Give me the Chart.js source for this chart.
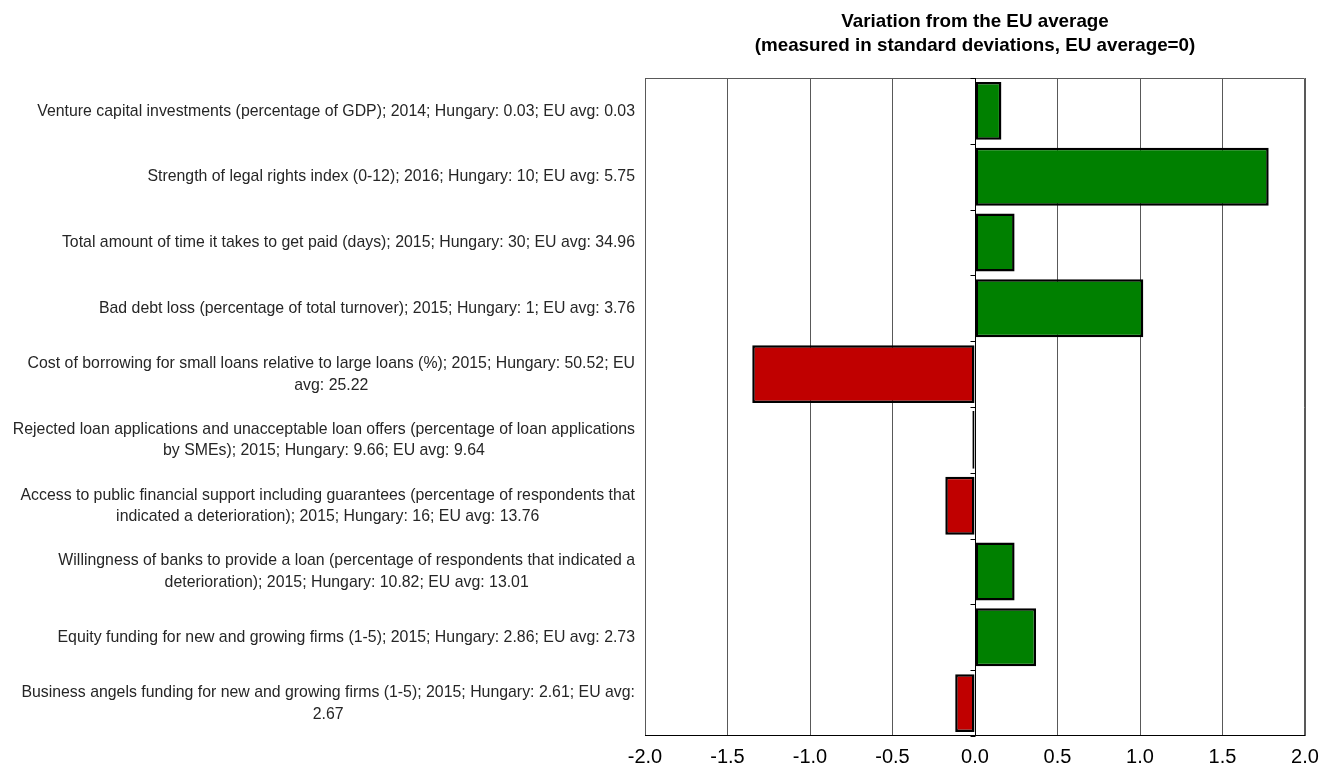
<!DOCTYPE html>
<html>
<head>
<meta charset="utf-8">
<script src="https://cdn.jsdelivr.net/npm/chart.js@4"></script>
<style>
  html, body { margin: 0; padding: 0; background: #ffffff; }
  #wrap { width: 1333px; height: 771px; position: relative; }
</style>
</head>
<body>
<div id="wrap"><canvas id="chart"></canvas></div>
<script>
// Indicator labels (each entry is one label, split into its display lines)
const indicators = [
  ["Venture capital investments (percentage of GDP); 2014; Hungary: 0.03; EU avg: 0.03"],
  ["Strength of legal rights index (0-12); 2016; Hungary: 10; EU avg: 5.75"],
  ["Total amount of time it takes to get paid (days); 2015; Hungary: 30; EU avg: 34.96"],
  ["Bad debt loss (percentage of total turnover); 2015; Hungary: 1; EU avg: 3.76"],
  ["Cost of borrowing for small loans relative to large loans (%); 2015; Hungary: 50.52; EU", "avg: 25.22"],
  ["Rejected loan applications and unacceptable loan offers (percentage of loan applications", "by SMEs); 2015; Hungary: 9.66; EU avg: 9.64"],
  ["Access to public financial support including guarantees (percentage of respondents that", "indicated a deterioration); 2015; Hungary: 16; EU avg: 13.76"],
  ["Willingness of banks to provide a loan (percentage of respondents that indicated a", "deterioration); 2015; Hungary: 10.82; EU avg: 13.01"],
  ["Equity funding for new and growing firms (1-5); 2015; Hungary: 2.86; EU avg: 2.73"],
  ["Business angels funding for new and growing firms (1-5); 2015; Hungary: 2.61; EU avg:", "2.67"]
];

// Deviation from the EU average, in standard deviations
const deviations = [0.16, 1.78, 0.24, 1.02, -1.35, -0.016, -0.18, 0.24, 0.37, -0.12];

// Whether Hungary's position is favourable for each indicator
const favourable = [true, true, true, true, false, false, false, true, true, false];

// Horizontal axis ticks
const xTicks = [-2.0, -1.5, -1.0, -0.5, 0.0, 0.5, 1.0, 1.5, 2.0];

const titleLines = ["Variation from the EU average", "(measured in standard deviations, EU average=0)"];

const GREEN = '#008000';
const RED = '#C00000';

const LABEL_FONT = '17px "Liberation Sans", Arial, sans-serif';
const LABEL_SQUEEZE = 0.933;   // condensed look for the long category labels
const TITLE_FONT = 'bold 19px "Liberation Sans", Arial, sans-serif';
const TITLE_SQUEEZE = 0.99;

// Frame and zero axis, drawn under the bars
const frame = {
  id: 'frame',
  beforeDatasetsDraw(chart) {
    const ctx = chart.ctx;
    const area = chart.chartArea;
    const x = chart.scales.x;
    const y = chart.scales.y;
    ctx.save();
    ctx.lineWidth = 1;
    ctx.strokeStyle = '#595959';
    ctx.beginPath();
    ctx.moveTo(area.left + 0.5, area.bottom);
    ctx.lineTo(area.left + 0.5, area.top + 0.5);
    ctx.lineTo(area.right - 0.5, area.top + 0.5);
    ctx.lineTo(area.right - 0.5, area.bottom);
    ctx.stroke();

    // zero axis with category separators
    const x0 = Math.round(x.getPixelForValue(0)) + 0.5;
    ctx.strokeStyle = '#000000';
    ctx.beginPath();
    ctx.moveTo(x0, area.top);
    ctx.lineTo(x0, area.bottom);
    for (let i = 0; i <= indicators.length; i++) {
      const yy = Math.round(y.getPixelForValue(i - 0.5)) + 0.5;
      ctx.moveTo(x0 - 5, yy);
      ctx.lineTo(x0, yy);
    }
    ctx.stroke();
    ctx.restore();
  },
  afterDraw(chart) {
    const ctx = chart.ctx;
    const area = chart.chartArea;
    const y = chart.scales.y;
    ctx.save();
    // bottom axis line
    ctx.strokeStyle = '#000000';
    ctx.lineWidth = 1;
    ctx.beginPath();
    ctx.moveTo(area.left, area.bottom - 0.5);
    ctx.lineTo(area.right, area.bottom - 0.5);
    ctx.stroke();

    // category labels: block right-aligned, lines centred within the block
    ctx.font = LABEL_FONT;
    ctx.fillStyle = '#262626';
    ctx.textBaseline = 'middle';
    ctx.textAlign = 'center';
    const rightEdge = area.left - 10;
    const lineH = 21.5;
    indicators.forEach((lines, i) => {
      const cy = y.getPixelForValue(i);
      const w = Math.max(...lines.map(l => ctx.measureText(l).width)) * LABEL_SQUEEZE;
      const cx = rightEdge - w / 2;
      const y0 = cy - (lines.length - 1) * lineH / 2;
      lines.forEach((l, k) => {
        ctx.save();
        ctx.translate(cx, y0 + k * lineH);
        ctx.scale(LABEL_SQUEEZE, 1);
        ctx.fillText(l, 0, 0);
        ctx.restore();
      });
    });

    // title, centred over the plot area
    ctx.font = TITLE_FONT;
    ctx.fillStyle = '#000000';
    const tx = (area.left + area.right) / 2;
    titleLines.forEach((l, k) => {
      ctx.save();
      ctx.translate(tx, 22 + k * 24);
      ctx.scale(TITLE_SQUEEZE, 1);
      ctx.fillText(l, 0, 0);
      ctx.restore();
    });
    ctx.restore();
  }
};

new Chart(document.getElementById('chart'), {
  type: 'bar',
  data: {
    labels: indicators,
    datasets: [{
      data: deviations,
      backgroundColor: favourable.map(f => f ? GREEN : RED),
      borderColor: '#000000',
      borderWidth: 2.5,
      borderSkipped: false,
      barPercentage: 0.88,
      categoryPercentage: 1.0
    }]
  },
  options: {
    indexAxis: 'y',
    responsive: true,
    maintainAspectRatio: false,
    animation: false,
    layout: { padding: { top: 78, right: 28, bottom: 0, left: 0 } },
    plugins: {
      legend: { display: false },
      title: { display: false },
      tooltip: { enabled: false }
    },
    scales: {
      x: {
        type: 'linear',
        min: -2,
        max: 2,
        afterBuildTicks(scale) { scale.ticks = xTicks.map(v => ({ value: v })); },
        ticks: {
          callback: v => Number(v).toFixed(1),
          color: '#000000',
          font: { family: '"Liberation Sans", Arial, sans-serif', size: 20 },
          padding: 9,
          maxRotation: 0
        },
        grid: { color: '#595959', lineWidth: 1, drawTicks: false },
        border: { display: false },
        afterFit(scale) { scale.height = 35; }
      },
      y: {
        type: 'category',
        ticks: { display: false },
        grid: { display: false, drawTicks: false },
        border: { display: false },
        afterFit(scale) { scale.width = 645; }
      }
    }
  },
  plugins: [frame]
});
</script>
</body>
</html>
